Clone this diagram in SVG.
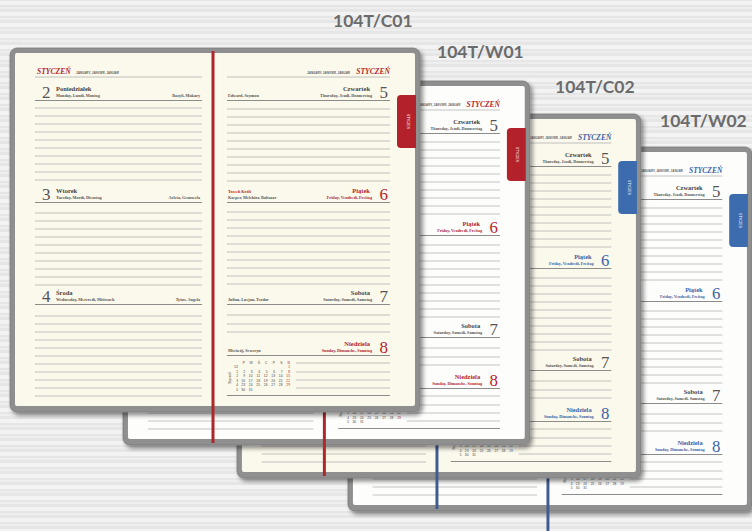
<svg xmlns="http://www.w3.org/2000/svg" xmlns:xlink="http://www.w3.org/1999/xlink" width="752" height="531" viewBox="0 0 752 531">
<style>
.paper{fill:var(--paper)}
.frame{fill:#8f8f8f;stroke:#7b7b7b;stroke-width:.8}
.tab{fill:var(--tab)}
.rib{stroke:var(--rib);stroke-width:3;fill:none}
.ln{stroke:#b3b3b3;stroke-width:.8}
.hl{stroke:#8c8c8c;stroke-width:1.1}
.num{font-family:"Liberation Serif",serif;font-size:17px;fill:#555}
.day{font-family:"Liberation Serif",serif;font-weight:bold;font-size:6.5px;fill:#454545}
.sub{font-family:"Liberation Serif",serif;font-weight:bold;font-size:4.2px;fill:#555}
.mon{font-family:"Liberation Serif",serif;font-weight:bold;font-style:italic;font-size:7.6px}
.tiny{font-family:"Liberation Sans",sans-serif;font-weight:bold;font-size:3px;fill:#666}
.cal{font-family:"Liberation Sans",sans-serif;font-size:3.3px;fill:#444}
.tabt{font-family:"Liberation Sans",sans-serif;font-size:3.2px;fill:#fff}
.acc{fill:var(--acc)}
.lab{font-family:Lato,"Liberation Sans",sans-serif;font-weight:bold;font-size:17.5px;fill:#6b6b6b}
</style>
<defs>
<pattern id="grain" width="752" height="11" patternUnits="userSpaceOnUse">
<rect width="752" height="11" fill="#e6e6e6"/>
<rect y="1" width="752" height="4" fill="#f3f3f3"/>
<rect y="7" width="752" height="2" fill="#eeeeee"/>
</pattern>
<filter id="sh" x="-5%" y="-5%" width="112%" height="115%">
<feDropShadow dx="2.5" dy="3" stdDeviation="2" flood-color="#000" flood-opacity=".45"/>
</filter>
<g id="planner">
<rect class="frame" x="0" y="0" width="410" height="364" rx="7" filter="url(#sh)"/>
<rect class="paper" x="5" y="5" width="400" height="353" rx="2"/>
<!-- left page -->
<text class="mon acc" x="27" y="26">STYCZEŃ</text>
<text class="tiny" x="66" y="25.5">JANUARY, JANVIER, JANUAR</text>
<line class="ln" x1="25" y1="29" x2="192" y2="29"/>
<text class="num" x="32" y="50">2</text>
<text class="day" x="46" y="43">Poniedziałek</text>
<text class="sub" x="46" y="49">Monday, Lundi, Montag</text>
<text class="sub" x="190" y="49" text-anchor="end">Bazyli, Makary</text>
<line class="hl" x1="25" y1="52.5" x2="192" y2="52.5"/>
<path class="ln" d="M25 60H192M25 68H192M25 76H192M25 84H192M25 92H192M25 100H192M25 108H192M25 116H192M25 124H192M25 132H192"/>
<text class="num" x="32" y="152">3</text>
<text class="day" x="46" y="145">Wtorek</text>
<text class="sub" x="46" y="151">Tuesday, Mardi, Dienstag</text>
<text class="sub" x="190" y="151" text-anchor="end">Arleta, Genowefa</text>
<line class="hl" x1="25" y1="154.5" x2="192" y2="154.5"/>
<path class="ln" d="M25 165H192M25 173H192M25 181H192M25 189H192M25 197H192M25 205H192M25 213H192M25 221H192M25 229H192M25 237H192"/>
<text class="num" x="32" y="254">4</text>
<text class="day" x="46" y="247">Środa</text>
<text class="sub" x="46" y="253">Wednesday, Mercredi, Mittwoch</text>
<text class="sub" x="190" y="253" text-anchor="end">Tytus, Angela</text>
<line class="hl" x1="25" y1="256.5" x2="192" y2="256.5"/>
<path class="ln" d="M25 268H192M25 276H192M25 284H192M25 292H192M25 300H192M25 308H192M25 316H192M25 324H192M25 332H192M25 340H192M25 348H192"/>
<!-- right page -->
<text class="tiny" x="340" y="25.5" text-anchor="end">JANUARY, JANVIER, JANUAR</text>
<text class="mon acc" x="380" y="26" text-anchor="end">STYCZEŃ</text>
<line class="ln" x1="217" y1="29" x2="380" y2="29"/>
<text class="num" x="378" y="50" text-anchor="end">5</text>
<text class="day" x="360" y="43" text-anchor="end">Czwartek</text>
<text class="sub" x="362" y="49" text-anchor="end">Thursday, Jeudi, Donnerstag</text>
<text class="sub" x="218" y="49">Edward, Szymon</text>
<line class="hl" x1="217" y1="52.5" x2="380" y2="52.5"/>
<path class="ln" d="M217 61H380M217 69H380M217 77H380M217 85H380M217 93H380M217 101H380M217 109H380M217 117H380M217 125H380M217 133H380"/>
<text class="num acc" x="378" y="152" text-anchor="end">6</text>
<text class="day acc" x="360" y="145" text-anchor="end">Piątek</text>
<text class="sub acc" x="362" y="151" text-anchor="end">Friday, Vendredi, Freitag</text>
<text class="sub acc" x="218" y="145">Trzech Króli</text>
<text class="sub" x="218" y="151">Kacper, Melchior, Baltazar</text>
<line class="hl" x1="217" y1="154.5" x2="380" y2="154.5"/>
<path class="ln" d="M217 164H380M217 172H380M217 180H380M217 188H380M217 196H380M217 204H380M217 212H380M217 220H380M217 228H380M217 236H380"/>
<text class="num" x="378" y="254" text-anchor="end">7</text>
<text class="day" x="360" y="247" text-anchor="end">Sobota</text>
<text class="sub" x="362" y="253" text-anchor="end">Saturday, Samedi, Samstag</text>
<text class="sub" x="218" y="253">Julian, Lucjan, Teodor</text>
<line class="hl" x1="217" y1="256.5" x2="380" y2="256.5"/>
<path class="ln" d="M217 267H380M217 276H380M217 284H380"/>
<text class="num acc" x="378" y="305" text-anchor="end">8</text>
<text class="day acc" x="360" y="298" text-anchor="end">Niedziela</text>
<text class="sub acc" x="362" y="304" text-anchor="end">Sunday, Dimanche, Sonntag</text>
<text class="sub" x="218" y="304">Mściwój, Seweryn</text>
<line class="hl" x1="217" y1="307.5" x2="380" y2="307.5"/>
<path class="ln" d="M286 315H380M286 324H380M286 332H380M286 340H380"/>
<line class="hl" x1="217" y1="347.5" x2="380" y2="347.5"/>
<!-- mini calendar -->
<text class="cal" transform="translate(221,330) rotate(-90)" text-anchor="middle">Styczeń</text>
<text class="cal" text-anchor="end" y="315.5"><tspan x="235">P</tspan><tspan x="242.5">W</tspan><tspan x="250">Ś</tspan><tspan x="257.5">C</tspan><tspan x="265">P</tspan><tspan x="272.5">S</tspan><tspan x="280" class="acc">N</tspan></text>
<text class="cal" text-anchor="end" x="228" y="320">52<tspan x="228" y="324.5">1</tspan><tspan x="228" y="329">2</tspan><tspan x="228" y="333.5">3</tspan><tspan x="228" y="338">4</tspan><tspan x="228" y="342.5">5</tspan></text>
<text class="cal acc" text-anchor="end" x="280" y="320">1<tspan x="280" y="324.5">8</tspan><tspan x="280" y="329">15</tspan><tspan x="280" y="333.5">22</tspan><tspan x="280" y="338">29</tspan></text>
<text class="cal" text-anchor="end" y="324.5"><tspan x="235">2</tspan><tspan x="242.5">3</tspan><tspan x="250">4</tspan><tspan x="257.5">5</tspan><tspan x="265">6</tspan><tspan x="272.5">7</tspan></text>
<text class="cal" text-anchor="end" y="329"><tspan x="235">9</tspan><tspan x="242.5">10</tspan><tspan x="250">11</tspan><tspan x="257.5">12</tspan><tspan x="265">13</tspan><tspan x="272.5">14</tspan></text>
<text class="cal" text-anchor="end" y="333.5"><tspan x="235">16</tspan><tspan x="242.5">17</tspan><tspan x="250">18</tspan><tspan x="257.5">19</tspan><tspan x="265">20</tspan><tspan x="272.5">21</tspan></text>
<text class="cal" text-anchor="end" y="338"><tspan x="235">23</tspan><tspan x="242.5">24</tspan><tspan x="250">25</tspan><tspan x="257.5">26</tspan><tspan x="265">27</tspan><tspan x="272.5">28</tspan></text>
<text class="cal" text-anchor="end" y="342.5"><tspan x="235">30</tspan><tspan x="242.5">31</tspan></text>
<!-- tab -->
<path class="tab" d="M406 47H391Q387 47 387 51V96Q387 100 391 100H406Z"/>
<text class="tabt" transform="translate(396.5,73.5) rotate(90)" text-anchor="middle">STYCZEŃ</text>
<!-- ribbon -->
<line class="rib" x1="203" y1="3" x2="203" y2="395"/>
</g>
</defs>
<rect width="752" height="531" fill="url(#grain)"/>
<g id="labels">
<text class="lab" x="333" y="27">104T/C01</text>
<text class="lab" x="437" y="58">104T/W01</text>
<text class="lab" x="555" y="93">104T/C02</text>
<text class="lab" x="660" y="127">104T/W02</text>
</g>
<g id="planner-104T-W02">
<use href="#planner" xlink:href="#planner" transform="translate(348,147) scale(0.985,1)" style="--paper:#fdfdfc;--acc:#3a62a5;--tab:#3d6cae;--rib:#3e5c92"/>
</g>
<g id="planner-104T-C02">
<use href="#planner" xlink:href="#planner" transform="translate(237,114) scale(0.985,1)" style="--paper:#fbf8ec;--acc:#3a62a5;--tab:#3d6cae;--rib:#3e5c92"/>
</g>
<g id="planner-104T-W01">
<use href="#planner" xlink:href="#planner" transform="translate(123,81) scale(0.992,1)" style="--paper:#fdfdfc;--acc:#b3262d;--tab:#b3222a;--rib:#ad272b"/>
</g>
<g id="planner-104T-C01">
<use href="#planner" xlink:href="#planner" transform="translate(10,48)" style="--paper:#fbf8ec;--acc:#b3262d;--tab:#b3222a;--rib:#ad272b"/>
</g>
</svg>
